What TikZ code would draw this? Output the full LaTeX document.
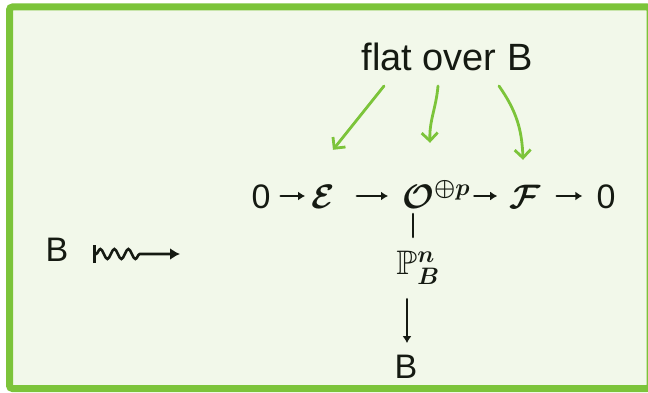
\RequirePackage{fix-cm}
\documentclass[tikz,border=0pt]{standalone}
\usepackage{amssymb}
\usepackage{fontspec}
\setmainfont{Liberation Sans}
\usetikzlibrary{arrows.meta,decorations.pathmorphing,calc}
\definecolor{brdgreen}{HTML}{7CC43A}
\definecolor{bggreen}{HTML}{F2F8EA}
\definecolor{ink}{HTML}{151A12}
\begin{document}
\begin{tikzpicture}[x=1pt,y=-1pt,
  every node/.style={inner sep=0pt, text=ink},
  bigfont/.style={font=\fontsize{34}{38}\selectfont\boldmath},
  rowitem/.style={bigfont, anchor=base, text height=26pt, text depth=2pt},
  blk/.style={draw=ink, line width=2.6pt, line cap=round},
  arr/.style={blk, -{Latex[length=7pt,width=9pt]}},
  grn/.style={draw=brdgreen, line width=2.8pt, line cap=round, -{Straight Barb[length=8pt,width=16pt,line width=2.8pt]}}]
\useasboundingbox (0,0) rectangle (648,393);
\fill[white] (0,0) rectangle (648,393);
\draw[brdgreen, line width=7pt, fill=bggreen, rounded corners=3pt] (9.5,7) rectangle (650,388.5);

% title
\node[font=\fontsize{38}{42}\selectfont] (flat) at (447,57) {flat over B};

% exact sequence row
\node[rowitem] (z1) at (261,208) {0};
\node[rowitem] (E) at (323,208) {$\mathcal{E}$};
\node[rowitem, anchor=base west] (O) at (402,208) {$\mathcal{O}^{\oplus p}$};
\node[rowitem] (F) at (525,208) {$\mathcal{F}$};
\node[rowitem] (z2) at (606,208) {0};

\draw[arr, shorten <=10pt, shorten >=6pt] (z1) -- (E);
\draw[arr, shorten <=22pt, shorten >=14pt] (E) -- (O);
\draw[arr, shorten <=4pt, shorten >=12pt] (O) -- (F);
\draw[arr, shorten <=16pt, shorten >=14pt] (F) -- (z2);

% vertical
\node[bigfont] (P) at (418,268) {$\mathbb{P}^n_B$};
\node[bigfont] (B2) at (406,367) {B};
\coordinate (vt) at (413,214);
\coordinate (vb) at (413,237);
\draw[blk] (vt) -- (vb);
\draw[arr, shorten <=14pt, shorten >=12pt] ([xshift=-11pt]P.south) -- ([xshift=1pt]B2.north);

% left B with squiggle
\node[bigfont] (Bl) at (57,250) {B};
\coordinate (sqs) at (93,254);
\coordinate (sqe) at (180,254);
\draw[blk, {Bar[width=18pt,line width=2.6pt]}-{Latex[length=10pt,width=12pt]},
  decorate, decoration={snake, amplitude=5pt, segment length=14pt, pre length=3pt, post length=34pt}] (sqs) -- (sqe);

% green arrows
\coordinate (g1) at (384,86);
\coordinate (g2) at (438,86);
\coordinate (g3) at (499,86);
\draw[grn] (g1) -- ([xshift=10pt,yshift=32pt]E.north);
\draw[grn] (g2) to[out=-95,in=92] ([xshift=28pt,yshift=39pt]O.north west);
\draw[grn] (g3) to[out=-55,in=92] ([xshift=-2pt,yshift=22pt]F.north);
\end{tikzpicture}
\end{document}
